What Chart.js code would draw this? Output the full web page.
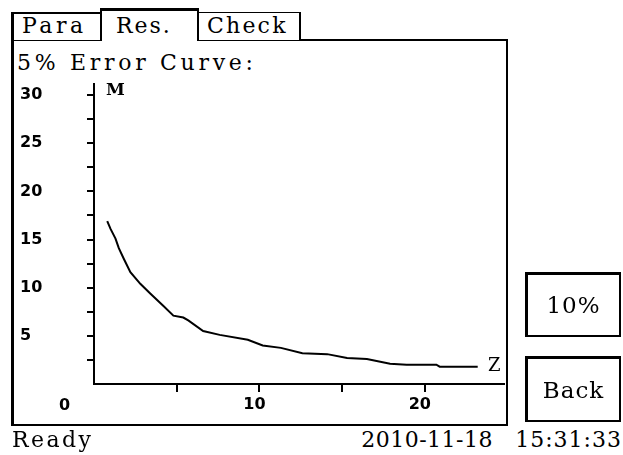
<!DOCTYPE html>
<html>
<head>
<meta charset="utf-8">
<script src="https://cdn.jsdelivr.net/npm/chart.js@4"></script>
<style>
  body { margin: 0; width: 623px; height: 455px; background: #fff; position: relative; overflow: hidden; font-family: "DejaVu Serif", serif; color: #000; }
  .abs { position: absolute; }
  .txt { position: absolute; font-size: 22px; line-height: 22px; white-space: pre; }
  .tab { position: absolute; box-sizing: border-box; background: #fff; }
  .btn { position: absolute; box-sizing: border-box; border-style: solid; border-color: #000;
         border-width: 3px 2px 2px 3px; display: flex; align-items: center; justify-content: center;
         font-size: 23px; letter-spacing: 1px; }
  .bold { font-family: "DejaVu Sans", sans-serif; font-weight: bold; font-size: 16px; line-height: 16px; }
</style>
</head>
<body>
<!-- main frame -->
<div class="abs" style="left:11px;top:39px;width:497px;height:387px;box-sizing:border-box;border-style:solid;border-color:#000;border-width:2px 2px 2px 3px;"></div>

<!-- tabs -->
<div class="tab" style="left:11px;top:12px;width:91px;height:28px;border-style:solid;border-color:#000;border-width:2px 2px 0 3px;"></div>
<div class="tab" style="left:100px;top:8px;width:99px;height:33px;border-style:solid;border-color:#000;border-width:3px 2px 0 2px;"></div>
<div class="tab" style="left:197px;top:12px;width:104px;height:28px;border-style:solid;border-color:#000;border-width:1px 2px 0 2px;"></div>
<span class="txt" style="left:22px;top:15px;letter-spacing:3.5px;">Para</span>
<span class="txt" style="left:116px;top:15px;letter-spacing:2px;">Res.</span>
<span class="txt" style="left:207px;top:15px;letter-spacing:2.2px;">Check</span>

<span class="txt" style="left:17px;top:52px;letter-spacing:3.7px;">5% Error Curve:</span>

<canvas id="curve-chart" width="485" height="337" class="abs" style="left:20px;top:83px;"></canvas>

<span class="txt" style="left:106px;top:78px;font-size:17px;font-weight:bold;">M</span>
<span class="txt" style="left:488px;top:354px;font-size:18px;">Z</span>
<span class="abs bold" style="left:59px;top:397px;">0</span>

<!-- buttons -->
<div class="btn" style="left:525px;top:272px;width:96px;height:65px;">10%</div>
<div class="btn" style="left:525px;top:356px;width:96px;height:66px;">Back</div>

<!-- status bar -->
<span class="txt" style="left:12px;top:429px;letter-spacing:2.4px;">Ready</span>
<span class="txt" style="right:130px;top:429px;letter-spacing:0.5px;">2010-11-18</span>
<span class="txt" style="right:1px;top:429px;letter-spacing:1px;">15:31:33</span>

<script>
// Data
const zValues = [0.8, 1.0, 1.3, 1.5, 1.8, 2.2, 2.8, 3.4, 4.2, 4.8, 5.4, 5.7, 6.6, 7.6, 9.3, 10.2, 11.3, 12.6, 14.1, 15.3, 16.5, 17.9, 18.9, 20.7, 20.9, 23.2];
const mValues = [16.9, 16.1, 15.1, 14.1, 13.0, 11.6, 10.4, 9.4, 8.1, 7.1, 6.9, 6.6, 5.5, 5.1, 4.6, 4.0, 3.75, 3.2, 3.1, 2.7, 2.6, 2.1, 2.0, 2.0, 1.8, 1.8];

// Tick marks
const yTicks = [2.5, 5, 7.5, 10, 12.5, 15, 17.5, 20, 22.5, 25, 27.5, 30];
const yLabels = ['', '5', '', '10', '', '15', '', '20', '', '25', '', '30'];
const xTicks = [5, 10, 15, 20];
const xLabels = ['', '10', '', '20'];

const tickFont = { family: 'DejaVu Sans', weight: 'bold', size: 16 };

const config = {
  type: 'line',
  data: {
    datasets: [{
      data: zValues.map((z, i) => ({ x: z, y: mValues[i] })),
      borderColor: '#000',
      borderWidth: 2,
      pointRadius: 0,
      tension: 0,
      fill: false
    }]
  },
  options: {
    responsive: false,
    animation: false,
    devicePixelRatio: 1,
    layout: { padding: 0 },
    plugins: {
      legend: { display: false },
      tooltip: { enabled: false }
    },
    scales: {
      x: {
        type: 'linear',
        min: 0,
        max: 24.85,
        afterBuildTicks: (scale) => { scale.ticks = xTicks.map(v => ({ value: v })); },
        afterFit: (scale) => { scale.height = 36; scale.paddingLeft = 0; scale.paddingRight = 0; },
        border: { display: true, color: '#000', width: 2 },
        grid: { drawOnChartArea: false, drawTicks: true, tickLength: 8, color: '#000', lineWidth: 2 },
        ticks: {
          autoSkip: false,
          maxRotation: 0,
          padding: 3,
          labelOffset: -5,
          color: '#000',
          font: tickFont,
          callback: (v) => xLabels[xTicks.indexOf(v)] || ''
        }
      },
      y: {
        min: 0,
        max: 31.25,
        afterBuildTicks: (scale) => { scale.ticks = yTicks.map(v => ({ value: v })); },
        afterFit: (scale) => { scale.width = 74; scale.paddingTop = 0; scale.paddingBottom = 0; },
        border: { display: true, color: '#000', width: 2 },
        grid: { drawOnChartArea: false, drawTicks: true, tickLength: 7, color: '#000', lineWidth: 2 },
        ticks: {
          autoSkip: false,
          crossAlign: 'far',
          color: '#000',
          font: tickFont,
          callback: (v) => yLabels[yTicks.indexOf(v)] || ''
        }
      }
    }
  }
};

let ctx = document.getElementById('curve-chart').getContext('2d');
let curveChart = new Chart(ctx, config);
</script>
</body>
</html>
